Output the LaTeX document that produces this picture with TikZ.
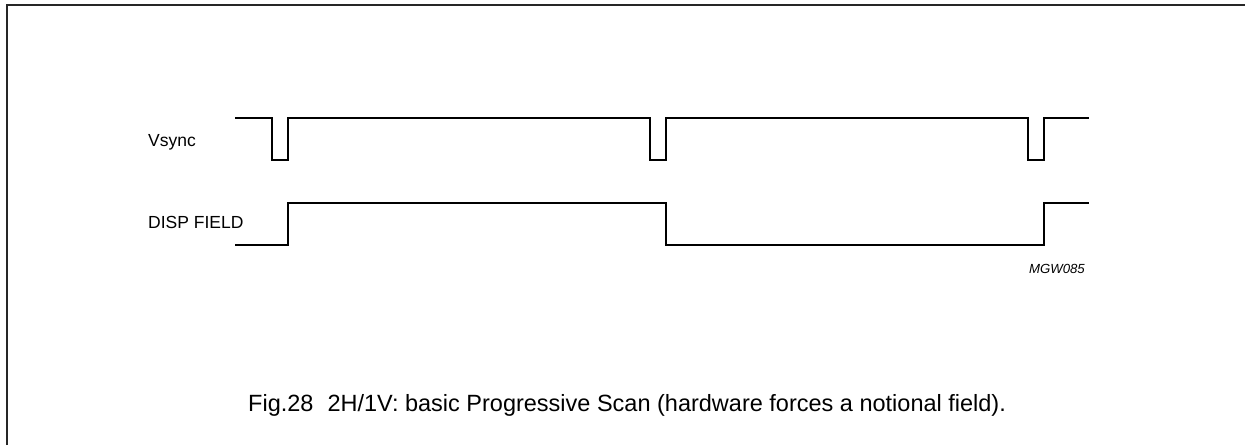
\documentclass[tikz,border=0pt]{standalone}
\usepackage{fontspec}
\setmainfont{Liberation Sans}
\begin{document}
\begin{tikzpicture}[x=1pt,y=-1pt,
  wave/.style={line width=1.8pt,line join=miter},
  frameline/.style={line width=1.8pt,black!85},
  lbl/.style={anchor=base west,inner sep=0pt,font=\fontsize{17.5}{20}\selectfont},
  code/.style={anchor=base east,inner sep=0pt,font=\fontsize{13.2}{15}\selectfont\itshape},
  capt/.style={anchor=base west,inner sep=0pt,font=\fontsize{23.5}{27}\selectfont}]
\useasboundingbox (0,0) rectangle (1245,445);
% frame (open at right and bottom)
\draw[frameline] (7,445) -- (7,5) -- (1245,5);
% labels
\node[lbl] (vs) at (148,146) {Vsync};
\node[lbl] (df) at (148,228) {DISP FIELD};
% Vsync waveform
\draw[wave] (235,118) -- (272,118) -- (272,160) -- (288,160) -- (288,118)
  -- (650,118) -- (650,160) -- (666,160) -- (666,118)
  -- (1028,118) -- (1028,160) -- (1044,160) -- (1044,118) -- (1089,118);
% DISP FIELD waveform
\draw[wave] (235,245) -- (288,245) -- (288,203) -- (666,203) -- (666,245)
  -- (1044,245) -- (1044,203) -- (1089,203);
\node[code] (mg) at (1085,273) {MGW085};
\node[capt] (cap) at (248,411) {Fig.28\hspace{0.6em}2H/1V: basic Progressive Scan (hardware forces a notional field).};
\end{tikzpicture}
\end{document}
